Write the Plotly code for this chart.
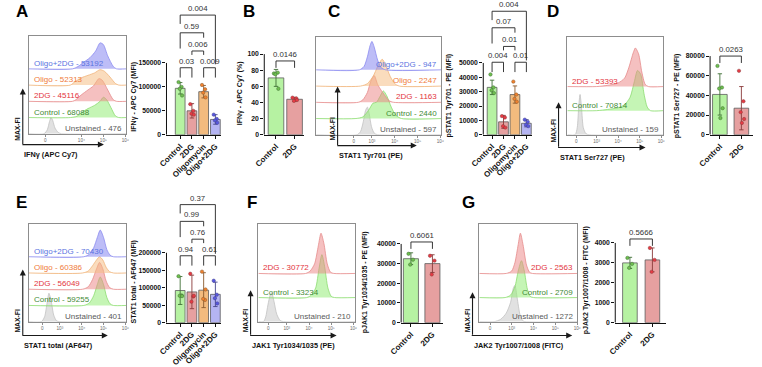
import plotly.graph_objects as go

W, H = 762, 367
FONT = "Liberation Sans, Arial, Helvetica, sans-serif"

# ======================= DATA =======================
GROUPS4 = ["Control", "2DG", "Oligomycin", "Oligo+2DG"]
GROUPS2 = ["Control", "2DG"]
LANE_KEYS5 = ["Unstained", "Control", "2DG", "Oligo", "Oligo+2DG"]
LANE_KEYS3 = ["Unstained", "Control", "2DG"]
DECADE_TEXT = ["10³", "10⁴", "10⁵", "10⁶"]
DECADES = [3, 4, 5, 6]

# ---- A : IFNg histograms (x in log-decade units, h in lane heights) ----
A_LABELS = ["Unstained - 476", "Control - 68088", "2DG - 45116", "Oligo - 52313", "Oligo+2DG - 53192"]
A_UNST_X = [1.6, 2.3, 2.45, 2.55, 2.62, 2.7, 2.8, 2.95, 3.1, 6.05]
A_UNST_H = [0, 0, 0.25, 0.75, 1.0, 0.8, 0.35, 0.08, 0, 0]
A_CTRL_X = [1.6, 3.5, 3.8, 4.0, 4.3, 4.6, 4.85, 5.0, 5.15, 5.35, 5.55, 5.7, 6.05]
A_CTRL_H = [0, 0, 0.08, 0.3, 0.55, 0.75, 1.0, 1.25, 1.1, 0.6, 0.1, 0, 0]
A_2DG_X = [1.6, 3.6, 3.75, 4.0, 4.3, 4.55, 4.8, 4.95, 5.2, 5.45, 5.6, 6.05]
A_2DG_H = [0, 0, 0.1, 0.4, 0.7, 0.95, 1.4, 1.3, 0.7, 0.1, 0, 0]
A_OLIG_X = [1.6, 3.5, 3.7, 4.0, 4.3, 4.6, 4.85, 5.05, 5.3, 5.55, 5.7, 6.05]
A_OLIG_H = [0, 0, 0.2, 0.45, 0.6, 0.75, 0.95, 0.85, 0.5, 0.1, 0, 0]
A_OL2D_X = [1.6, 3.6, 3.85, 4.1, 4.4, 4.65, 4.85, 5.0, 5.2, 5.45, 5.6, 6.05]
A_OL2D_H = [0, 0, 0.15, 0.4, 0.7, 1.1, 1.6, 1.5, 0.8, 0.15, 0, 0]
A_ZERO_TICK = 2.36

# ---- A : IFNg MFI bars ----
A_MEAN = [97000, 50000, 90000, 32000]
A_SD = [12000, 15000, 13000, 10000]
A_PTS = [[110000, 100000, 96000, 82000], [64000, 50000, 44000, 42000],
         [104000, 95000, 88000, 78000], [42000, 33000, 30000, 25000]]
A_TICKS = [0, 50000, 100000, 150000]
A_PAIRS = [(0, 3), (0, 2), (1, 2), (0, 1), (2, 3)]
A_PVALS = ["0.004", "0.59", "0.006", "0.03", "0.009"]
A_LEVELS = [250000, 213000, 175000, 140000, 140000]

# ---- B : IFNg % bars ----
B_MEAN = [70.5, 44]
B_SD = [10.5, 2.5]
B_PTS = [[76, 77, 75, 57], [46, 45, 42, 43]]
B_TICKS = [0, 20, 40, 60, 80, 100]
B_PAIRS = [(0, 1)]
B_PVALS = ["0.0146"]
B_LEVELS = [91.5]

# ---- C : pSTAT1 Tyr701 histograms ----
C_LABELS = ["Unstained - 597", "Control - 2440", "2DG - 1163", "Oligo - 2247", "Oligo+2DG - 947"]
C_UNST_X = [0.55, 2.35, 2.5, 2.62, 2.72, 2.8, 2.88, 2.98, 3.1, 3.25, 6.04]
C_UNST_H = [0, 0, 0.2, 0.8, 1.5, 1.7, 1.3, 0.5, 0.1, 0, 0]
C_CTRL_X = [0.55, 2.3, 2.6, 2.85, 3.05, 3.2, 3.35, 3.5, 3.65, 3.85, 4.05, 4.3, 6.04]
C_CTRL_H = [0, 0, 0.1, 0.5, 0.95, 1.0, 1.35, 1.7, 1.4, 0.7, 0.2, 0, 0]
C_2DG_X = [0.55, 2.4, 2.6, 2.8, 2.95, 3.1, 3.25, 3.4, 3.55, 3.75, 3.95, 6.04]
C_2DG_H = [0, 0, 0.15, 0.6, 1.3, 1.65, 1.1, 0.75, 0.45, 0.1, 0, 0]
C_OLIG_X = [0.55, 2.5, 2.8, 3.05, 3.25, 3.45, 3.6, 3.8, 4.0, 4.2, 6.04]
C_OLIG_H = [0, 0, 0.15, 0.6, 1.2, 1.65, 1.3, 0.6, 0.15, 0, 0]
C_OL2D_X = [0.55, 2.45, 2.65, 2.8, 2.92, 3.0, 3.1, 3.25, 3.4, 3.6, 6.04]
C_OL2D_H = [0, 0, 0.2, 0.8, 1.5, 1.75, 1.4, 0.6, 0.15, 0, 0]
C_ZERO_TICK = 2.2

# ---- C : pSTAT1 Tyr701 bars ----
C_MEAN = [33000, 9000, 28000, 8000]
C_SD = [5000, 4500, 6000, 2500]
C_PTS = [[42000, 33000, 31000, 29000], [13000, 12000, 6000, 5000],
         [37000, 28000, 25000, 23000], [10500, 9000, 7000, 6000]]
C_TICKS = [0, 10000, 20000, 30000, 40000, 50000]
C_PAIRS = [(0, 3), (0, 2), (1, 2), (0, 1), (2, 3)]
C_PVALS = ["0.004", "0.07", "0.01", "0.004", "0.01"]
C_LEVELS = [86000, 74500, 61500, 50500, 50500]

# ---- D : pSTAT1 Ser727 ----
D_LABELS = ["Unstained - 159", "Control - 70814", "2DG - 53393"]
D_UNST_X = [1.64, 2.0, 2.1, 2.17, 2.23, 2.3, 2.38, 2.5, 2.65, 6.09]
D_UNST_H = [0, 0, 0.3, 1.2, 1.67, 1.1, 0.3, 0.05, 0, 0]
D_CTRL_X = [1.64, 3.0, 3.5, 4.0, 4.3, 4.55, 4.75, 4.9, 5.05, 5.2, 5.35, 5.5, 6.09]
D_CTRL_H = [0, 0, 0.05, 0.12, 0.25, 0.55, 1.2, 1.67, 1.5, 0.7, 0.15, 0, 0]
D_2DG_X = [1.64, 3.0, 3.5, 4.0, 4.3, 4.5, 4.7, 4.8, 4.95, 5.1, 5.25, 5.4, 6.09]
D_2DG_H = [0, 0, 0.05, 0.15, 0.35, 0.8, 1.4, 1.6, 1.35, 0.6, 0.1, 0, 0]
D_ZERO_TICK = 2.05
D_MEAN = [41000, 27000]
D_SD = [21000, 22000]
D_PTS = [[70000, 48000, 47000, 27000, 17000], [65000, 34000, 23000, 16000, 12000]]
D_TICKS = [0, 20000, 40000, 60000, 80000]
D_PAIRS = [(0, 1)]
D_PVALS = ["0.0263"]
D_LEVELS = [80000]

# ---- E : STAT1 total ----
E_LABELS = ["Unstained - 401", "Control - 59255", "2DG - 56049", "Oligo - 60386", "Oligo+2DG - 70430"]
E_UNST_X = [1.57, 2.15, 2.3, 2.42, 2.5, 2.6, 2.72, 2.85, 3.0, 6.05]
E_UNST_H = [0, 0, 0.3, 1.2, 1.75, 1.3, 0.4, 0.05, 0, 0]
E_CTRL_X = [1.57, 4.1, 4.35, 4.55, 4.72, 4.85, 5.0, 5.15, 5.3, 5.45, 6.05]
E_CTRL_H = [0, 0, 0.15, 0.6, 1.3, 1.75, 1.3, 0.5, 0.1, 0, 0]
E_2DG_X = [1.57, 4.05, 4.3, 4.5, 4.68, 4.82, 4.97, 5.12, 5.28, 5.45, 6.05]
E_2DG_H = [0, 0, 0.15, 0.6, 1.25, 1.65, 1.25, 0.5, 0.1, 0, 0]
E_OLIG_X = [1.57, 4.05, 4.3, 4.5, 4.68, 4.82, 4.97, 5.12, 5.28, 5.45, 6.05]
E_OLIG_H = [0, 0, 0.12, 0.45, 0.8, 1.0, 0.8, 0.35, 0.08, 0, 0]
E_OL2D_X = [1.57, 4.1, 4.35, 4.55, 4.72, 4.85, 5.0, 5.15, 5.3, 5.45, 6.05]
E_OL2D_H = [0, 0, 0.15, 0.55, 1.2, 1.64, 1.2, 0.45, 0.1, 0, 0]
E_ZERO_TICK = 2.19
E_MEAN = [92000, 88000, 93000, 81000]
E_SD = [40000, 48000, 50000, 35000]
E_PTS = [[133000, 78000, 77000, 76000], [140000, 75000, 60000, 77000],
         [146000, 65000, 68000, 95000], [120000, 80000, 70000, 55000]]
E_TICKS = [0, 50000, 100000, 150000, 200000]
E_PAIRS = [(0, 3), (0, 2), (1, 2), (0, 1), (2, 3)]
E_PVALS = ["0.37", "0.99", "0.76", "0.94", "0.61"]
E_LEVELS = [338000, 290000, 239000, 191500, 191500]

# ---- F : JAK1 ----
F_LABELS = ["Unstained - 210", "Control - 33234", "2DG - 30772"]
F_UNST_X = [1.72, 1.95, 2.05, 2.15, 2.25, 2.32, 2.42, 2.55, 2.7, 2.85, 6.08]
F_UNST_H = [0, 0, 0.2, 0.7, 1.1, 1.2, 0.85, 0.3, 0.05, 0, 0]
F_CTRL_X = [1.72, 3.9, 4.1, 4.3, 4.45, 4.58, 4.7, 4.85, 5.0, 5.15, 6.08]
F_CTRL_H = [0, 0, 0.1, 0.4, 1.2, 1.78, 1.3, 0.4, 0.05, 0, 0]
F_2DG_X = [1.72, 3.85, 4.05, 4.25, 4.42, 4.54, 4.67, 4.82, 4.97, 5.12, 6.08]
F_2DG_H = [0, 0, 0.1, 0.4, 1.15, 1.67, 1.25, 0.4, 0.05, 0, 0]
F_ZERO_TICK = 2.16
F_MEAN = [32500, 30000]
F_SD = [3000, 4500]
F_PTS = [[35000, 32000, 29500], [34000, 31500, 24500]]
F_TICKS = [0, 10000, 20000, 30000, 40000]
F_PAIRS = [(0, 1)]
F_PVALS = ["0.6061"]
F_LEVELS = [41000]

# ---- G : JAK2 ----
G_LABELS = ["Unstained - 1272", "Control - 2709", "2DG - 2563"]
G_UNST_X = [1.52, 2.2, 2.5, 2.75, 2.95, 3.08, 3.15, 3.25, 3.38, 3.5, 3.6, 6.0]
G_UNST_H = [0, 0, 0.1, 0.35, 0.8, 1.4, 1.5, 1.0, 0.3, 0.05, 0, 0]
G_CTRL_X = [1.52, 2.7, 2.95, 3.15, 3.3, 3.45, 3.58, 3.72, 3.85, 4.0, 6.0]
G_CTRL_H = [0, 0, 0.1, 0.45, 1.1, 1.53, 1.1, 0.35, 0.05, 0, 0]
G_2DG_X = [1.52, 2.75, 3.0, 3.15, 3.3, 3.4, 3.52, 3.68, 3.82, 3.95, 6.0]
G_2DG_H = [0, 0, 0.1, 0.45, 1.2, 1.67, 1.2, 0.35, 0.05, 0, 0]
G_ZERO_TICK = 2.01
G_MEAN = [3000, 3150]
G_SD = [280, 600]
G_PTS = [[3250, 2950, 2750], [3750, 3150, 2550]]
G_TICKS = [0, 1000, 2000, 3000, 4000]
G_PAIRS = [(0, 1)]
G_PVALS = ["0.5666"]
G_LEVELS = [4200]

# ======================= STYLE =======================
HCOL = {
    "Unstained": dict(fill="rgba(200,200,200,0.55)", line="#c2c2c2", text="#5a5a5a"),
    "Control": dict(fill="rgba(150,236,120,0.55)", line="#8cdc70", text="#3f8a35"),
    "2DG": dict(fill="rgba(236,135,135,0.52)", line="#e68c8c", text="#e3343c"),
    "Oligo": dict(fill="rgba(246,188,128,0.52)", line="#f0b47a", text="#ef7b3a"),
    "Oligo+2DG": dict(fill="rgba(135,135,240,0.55)", line="#8c8cf0", text="#5b73df"),
}
BCOL = {
    "Control": dict(fill="#b6f2a2", pt="#6fbf4f", err="#3f6f35"),
    "2DG": dict(fill="#e6a0a0", pt="#e63a44", err="#8a3a3a"),
    "Oligomycin": dict(fill="#f3bb7e", pt="#f0812e", err="#8a5a2e"),
    "Oligo+2DG": dict(fill="#b4b4f2", pt="#5757e0", err="#44448a"),
}
JIT = [-0.14, 0.12, -0.04, 0.16, 0.03]
LEGS5 = [(9, 50), (16, 5), (4, 4), (10, 10), (10, 10)]
LEGS2 = [(7, 7)]
LABEL_SIZE = 8
YTICK_SIZE = 6.8
XTICK_SIZE = 8
PVAL_SIZE = 7.8
YTITLE_SIZE = 7

fig = go.Figure()
LAYOUT = {}
ANN = []
SHAPES = []
_n = [0]


def px(x):
    return x / W


def py(y):
    return 1 - y / H


def new_axes(xdom, ydom, xcfg, ycfg):
    _n[0] += 1
    n = _n[0]
    s = "" if n == 1 else str(n)
    LAYOUT["xaxis" + s] = dict(domain=xdom, anchor="y" + s, **xcfg)
    LAYOUT["yaxis" + s] = dict(domain=ydom, anchor="x" + s, **ycfg)
    return "x" + s, "y" + s


def hist_panel(box, xr, units, keys, xs_list, hs_list, labels, sides, zero_tick, show3=True):
    l, t, r, b = box
    frame = dict(showline=True, mirror=True, linecolor="#8d8d8d", linewidth=0.8,
                 showgrid=False, zeroline=False, fixedrange=True)
    if show3:
        tv = [zero_tick] + DECADES
        tt = ["0"] + DECADE_TEXT
    else:
        tv = [zero_tick] + DECADES[1:]
        tt = ["0"] + DECADE_TEXT[1:]
    xa, ya = new_axes(
        [px(l), px(r)], [py(b), py(t)],
        dict(range=xr, tickvals=tv, ticktext=tt, ticks="outside", ticklen=2, tickwidth=0.6,
             tickcolor="#8d8d8d", tickfont=dict(family=FONT, size=4.6, color="#666"), **frame),
        dict(range=[0, units], showticklabels=False, ticks="", **frame))
    for k, key in enumerate(keys):
        c = HCOL[key]
        xs, hs = xs_list[k], hs_list[k]
        fig.add_trace(go.Scatter(x=[xs[0], xs[-1]], y=[k, k], mode="lines",
                                 line=dict(width=0, color=c["line"]), xaxis=xa, yaxis=ya,
                                 hoverinfo="skip"))
        fig.add_trace(go.Scatter(x=xs, y=[k + h for h in hs], mode="lines",
                                 line=dict(color=c["line"], width=0.8, shape="spline", smoothing=0.7),
                                 fill="tonexty", fillcolor=c["fill"], xaxis=xa, yaxis=ya,
                                 hoverinfo="skip"))
        side = sides[k]
        ANN.append(dict(xref=xa + " domain", yref=ya, x=0.03 if side == "left" else 0.98, y=k,
                        xanchor=side, yanchor="bottom", yshift=-1, text=labels[k], showarrow=False,
                        font=dict(family=FONT, size=LABEL_SIZE, color=HCOL[key]["text"])))


def flow_axes(cx, cy, vhead, hhead, xlabel, mfy):
    arrow = dict(xref="paper", yref="paper", text="", showarrow=True, arrowhead=2,
                 arrowsize=1.1, arrowwidth=1.1, arrowcolor="#1a1a1a", standoff=0)
    ANN.append(dict(arrow, x=px(cx), y=py(vhead), ax=0, ay=cy - vhead))
    ANN.append(dict(arrow, x=px(hhead), y=py(cy), ax=cx - hhead, ay=0))
    ANN.append(dict(xref="paper", yref="paper", x=px(cx - 1), y=py(cy + 10), xanchor="left",
                    yanchor="middle", text=xlabel, showarrow=False,
                    font=dict(family=FONT, size=7.3, color="#111", weight="bold")))
    ANN.append(dict(xref="paper", yref="paper", x=px(cx - 5), y=py(mfy), xanchor="center",
                    yanchor="middle", text="MAX-FI", textangle=-90, showarrow=False,
                    font=dict(family=FONT, size=6.8, color="#111", weight="bold")))


def bar_panel(geom, cats, means, sds, pts, ticks, pairs, pvals, levels, legs, ytitle, ytpos):
    ax_px, c0, step, end_px, zero_px, tick_px, dom_top, bw = geom
    top_val = ticks[-1] * (zero_px - dom_top) / (zero_px - tick_px)
    per_px = top_val / (zero_px - dom_top)
    xr = [(ax_px - c0) / step, (end_px - c0) / step]
    xa, ya = new_axes(
        [px(ax_px), px(end_px)], [py(zero_px), py(dom_top)],
        dict(range=xr, tickvals=list(range(len(cats))), ticktext=cats, tickangle=-45,
             ticks="outside", ticklen=3, tickwidth=1, tickcolor="#111", showline=True,
             linecolor="#111", linewidth=1, showgrid=False, zeroline=False,
             tickfont=dict(family=FONT, size=XTICK_SIZE, color="#111", weight="bold")),
        dict(range=[0, top_val], tickvals=ticks, ticktext=[str(v) for v in ticks],
             ticks="outside", ticklen=3, tickwidth=1, tickcolor="#111", showline=False,
             showgrid=False, zeroline=False,
             tickfont=dict(family=FONT, size=YTICK_SIZE, color="#111", weight="bold")))
    for i, cat in enumerate(cats):
        c = BCOL[cat]
        fig.add_trace(go.Bar(x=[i], y=[means[i]], width=bw,
                             marker=dict(color=c["fill"], line=dict(color="#5c5c5c", width=0.8)),
                             error_y=dict(type="data", array=[sds[i]], visible=True,
                                          color=c["err"], thickness=0.9, width=2.2),
                             xaxis=xa, yaxis=ya, hoverinfo="skip"))
        jit = [JIT[k % len(JIT)] * (1.0 if len(cats) > 2 else 0.8) for k in range(len(pts[i]))]
        fig.add_trace(go.Scatter(x=[i + j for j in jit], y=pts[i], mode="markers",
                                 marker=dict(size=3.4, color=c["pt"],
                                             line=dict(width=0.5, color=c["err"])),
                                 xaxis=xa, yaxis=ya, cliponaxis=False, hoverinfo="skip"))
    SHAPES.append(dict(type="line", xref="paper", yref=ya, x0=px(ax_px), x1=px(ax_px),
                       y0=0, y1=ticks[-1], line=dict(color="#111", width=1)))
    for (i, j), pv, lvl, (lg_l, lg_r) in zip(pairs, pvals, levels, legs):
        path = (f"M {i},{lvl - lg_l * per_px} L {i},{lvl} L {j},{lvl} "
                f"L {j},{lvl - lg_r * per_px}")
        SHAPES.append(dict(type="path", xref=xa, yref=ya, path=path,
                           line=dict(color="#222", width=0.9)))
        ANN.append(dict(xref=xa, yref=ya, x=(i + j) / 2, y=lvl, yanchor="bottom", yshift=0,
                        text=pv, showarrow=False,
                        font=dict(family=FONT, size=PVAL_SIZE, color="#333")))
    ANN.append(dict(xref="paper", yref="paper", x=px(ytpos[0]), y=py(ytpos[1]), text=ytitle,
                    textangle=-90, showarrow=False, xanchor="center", yanchor="middle",
                    font=dict(family=FONT, size=YTITLE_SIZE, color="#111", weight="bold")))


# ======================= PANELS =======================
# A
hist_panel((16, 37, 116, 136), [1.6, 6.05], 6, LANE_KEYS5,
           [A_UNST_X, A_CTRL_X, A_2DG_X, A_OLIG_X, A_OL2D_X],
           [A_UNST_H, A_CTRL_H, A_2DG_H, A_OLIG_H, A_OL2D_H],
           A_LABELS, ["right", "left", "left", "left", "left"], A_ZERO_TICK, show3=False)
flow_axes(10, 147, 90, 93, "IFNγ (APC Cy7)", 131)
bar_panel((157, 171, 12, 213, 137, 64, 2, 0.83), GROUPS4, A_MEAN, A_SD, A_PTS, A_TICKS,
          A_PAIRS, A_PVALS, A_LEVELS, LEGS5, "IFNγ - APC Cy7 (MFI)", (124, 98))
# B
bar_panel((257, 269, 19, 298, 137, 55, 2, 0.84), GROUPS2, B_MEAN, B_SD, B_PTS, B_TICKS,
          B_PAIRS, B_PVALS, B_LEVELS, LEGS2, "IFNγ - APC Cy7 (%)", (233, 95))
# C
hist_panel((310, 38, 438, 137), [0.55, 6.04], 6, LANE_KEYS5,
           [C_UNST_X, C_CTRL_X, C_2DG_X, C_OLIG_X, C_OL2D_X],
           [C_UNST_H, C_CTRL_H, C_2DG_H, C_OLIG_H, C_OL2D_H],
           C_LABELS, ["right"] * 5, C_ZERO_TICK)
flow_axes(332, 148, 88, 413, "STAT1 Tyr701 (PE)", 131)
bar_panel((481, 490, 11.7, 531, 137, 64, 2, 0.85), GROUPS4, C_MEAN, C_SD, C_PTS, C_TICKS,
          C_PAIRS, C_PVALS, C_LEVELS, LEGS5, "pSTAT1 Tyr701 - PE (MFI)", (446, 97))
# D
hist_panel((567, 38, 665, 137), [1.64, 6.09], 99 / 24.5, LANE_KEYS3,
           [D_UNST_X, D_CTRL_X, D_2DG_X], [D_UNST_H, D_CTRL_H, D_2DG_H],
           D_LABELS, ["right", "left", "left"], D_ZERO_TICK)
flow_axes(558, 150, 104, 647, "STAT1 Ser727 (PE)", 133)
bar_panel((713, 723, 22, 757, 137, 57, 2, 0.68), GROUPS2, D_MEAN, D_SD, D_PTS, D_TICKS,
          D_PAIRS, D_PVALS, D_LEVELS, LEGS2, "pSTAT1 Ser727 - PE (MFI)", (680, 97))
# E
hist_panel((16, 228, 116, 327), [1.57, 6.05], 6, LANE_KEYS5,
           [E_UNST_X, E_CTRL_X, E_2DG_X, E_OLIG_X, E_OL2D_X],
           [E_UNST_H, E_CTRL_H, E_2DG_H, E_OLIG_H, E_OL2D_H],
           E_LABELS, ["right", "left", "left", "left", "left"], E_ZERO_TICK)
flow_axes(10, 341, 274, 97, "STAT1 total (AF647)", 326)
bar_panel((157, 171, 12, 213, 328, 257, 195, 0.83), GROUPS4, E_MEAN, E_SD, E_PTS, E_TICKS,
          E_PAIRS, E_PVALS, E_LEVELS, LEGS5, "STAT1 total - AF647 (MFI)", (124, 287))
# F
hist_panel((251, 228, 350, 327), [1.72, 6.08], 99 / 24.5, LANE_KEYS3,
           [F_UNST_X, F_CTRL_X, F_2DG_X], [F_UNST_H, F_CTRL_H, F_2DG_H],
           F_LABELS, ["right", "left", "left"], F_ZERO_TICK)
flow_axes(243, 341, 295, 331, "JAK1 Tyr1034/1035 (PE)", 326)
bar_panel((397, 407, 22, 440, 328, 248, 195, 0.7), GROUPS2, F_MEAN, F_SD, F_PTS, F_TICKS,
          F_PAIRS, F_PVALS, F_LEVELS, LEGS2, "pJAK1 Tyr1034/1035 - PE (MFI)", (360, 287))
# G
hist_panel((477, 228, 577, 327), [1.52, 6.0], 99 / 24.5, LANE_KEYS3,
           [G_UNST_X, G_CTRL_X, G_2DG_X], [G_UNST_H, G_CTRL_H, G_2DG_H],
           G_LABELS, ["right", "right", "right"], G_ZERO_TICK)
flow_axes(470, 341, 297, 572, "JAK2 Tyr1007/1008 (FITC)", 326)
bar_panel((616, 631, 23, 668, 328, 247, 195, 0.65), GROUPS2, G_MEAN, G_SD, G_PTS, G_TICKS,
          G_PAIRS, G_PVALS, G_LEVELS, LEGS2, "pJAK2 Tyr1007/1008 - FITC (MFI)", (586, 285))

# panel letters
for letter, (lx, ly) in {"A": (9, 12), "B": (241, 12), "C": (328, 12), "D": (552, 12),
                         "E": (9, 206), "F": (244, 206), "G": (466, 206)}.items():
    ANN.append(dict(xref="paper", yref="paper", x=px(lx), y=py(ly), text=letter, showarrow=False,
                    xanchor="center", yanchor="middle",
                    font=dict(family=FONT, size=17, color="#000", weight="bold")))

fig.update_layout(width=W, height=H, margin=dict(l=0, r=0, t=0, b=0), paper_bgcolor="white",
                  plot_bgcolor="rgba(0,0,0,0)", showlegend=False, barmode="overlay",
                  annotations=ANN, shapes=SHAPES, **LAYOUT)
fig.write_html("out.html")
